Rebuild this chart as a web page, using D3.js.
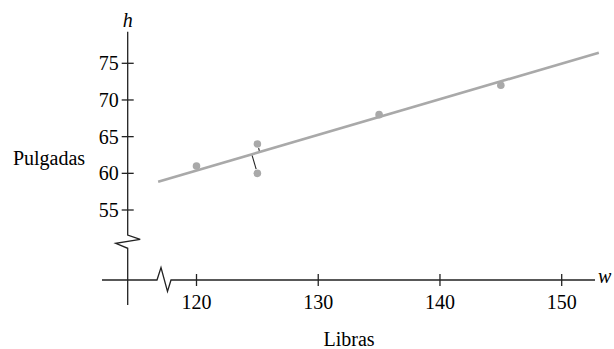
<!DOCTYPE html>
<html>
<head>
<meta charset="utf-8">
<script src="https://cdn.jsdelivr.net/npm/d3@7"></script>
<style>
  body { margin: 0; background: #fff; }
  svg { display: block; font-family: "Liberation Serif", "DejaVu Serif", serif; }
</style>
</head>
<body>
<svg id="chart" width="614" height="349"></svg>
<script>
// Datos
var pesos = [120, 125, 125, 135, 145];     // w (libras)
var alturas = [61, 64, 60, 68, 72];        // h (pulgadas)
var residuos = [1, 2];                     // puntos con segmento al ajuste
var ajusteW = [116.85, 153.05];            // extremos de la recta ajustada
var ajusteH = [58.85, 76.45];
var xTicks = [120, 130, 140, 150];
var yTicks = [55, 60, 65, 70, 75];

var svg = d3.select('#chart');

// Escalas
var x = d3.scaleLinear().domain([120, 150]).range([196.5, 561.7]);
var y = d3.scaleLinear().domain([55, 75]).range([210, 63.3]);

var ejeX = 280, ejeY = 127.7;
var gris = '#a9a9a9', negro = '#222';

// Eje Y con corte
var yBreak = 235;
svg.append('path')
  .attr('d', d3.line()([
    [ejeY, 31.7], [ejeY, yBreak], [ejeY + 12.5, yBreak + 4.3],
    [ejeY - 12, yBreak + 8.3], [ejeY, yBreak + 13.3], [ejeY, 305]
  ]))
  .attr('fill', 'none').attr('stroke', negro).attr('stroke-width', 1.3);

// Eje X con corte
var xBreak = 157;
svg.append('path')
  .attr('d', d3.line()([
    [102, ejeX], [xBreak, ejeX], [xBreak + 4, ejeX - 12.5],
    [xBreak + 10.5, ejeX + 11.5], [xBreak + 14, ejeX], [595, ejeX]
  ]))
  .attr('fill', 'none').attr('stroke', negro).attr('stroke-width', 1.3);

// Marcas Y
var gy = svg.append('g');
gy.selectAll('line').data(yTicks).enter().append('line')
  .attr('x1', ejeY - 6).attr('x2', ejeY + 6)
  .attr('y1', function (d) { return y(d); })
  .attr('y2', function (d) { return y(d); })
  .attr('stroke', negro).attr('stroke-width', 1.3);
gy.selectAll('text').data(yTicks).enter().append('text')
  .attr('x', ejeY - 9)
  .attr('y', function (d) { return y(d) + 7; })
  .attr('text-anchor', 'end')
  .style('font-size', '20px')
  .text(function (d) { return d; });

// Marcas X
var gx = svg.append('g');
gx.selectAll('line').data(xTicks).enter().append('line')
  .attr('x1', function (d) { return x(d); })
  .attr('x2', function (d) { return x(d); })
  .attr('y1', ejeX - 6).attr('y2', ejeX + 6)
  .attr('stroke', negro).attr('stroke-width', 1.3);
gx.selectAll('text').data(xTicks).enter().append('text')
  .attr('x', function (d) { return x(d); })
  .attr('y', 309)
  .attr('text-anchor', 'middle')
  .style('font-size', '20px')
  .text(function (d) { return d; });

// Etiquetas
svg.append('text').attr('x', ejeY).attr('y', 27).attr('text-anchor', 'middle')
  .style('font-size', '20px').style('font-style', 'italic').text('h');
svg.append('text').attr('x', 598).attr('y', 283)
  .style('font-size', '20px').style('font-style', 'italic').text('w');
svg.append('text').attr('x', 49).attr('y', 165).attr('text-anchor', 'middle')
  .style('font-size', '20px').text('Pulgadas');
svg.append('text').attr('x', 349).attr('y', 346).attr('text-anchor', 'middle')
  .style('font-size', '20px').text('Libras');

// Recta ajustada
var p0 = [x(ajusteW[0]), y(ajusteH[0])], p1 = [x(ajusteW[1]), y(ajusteH[1])];
svg.append('line')
  .attr('x1', p0[0]).attr('y1', p0[1]).attr('x2', p1[0]).attr('y2', p1[1])
  .attr('stroke', gris).attr('stroke-width', 2.6);

// Residuos (perpendiculares a la recta)
var dx = p1[0] - p0[0], dy = p1[1] - p0[1], len = Math.sqrt(dx * dx + dy * dy);
var ux = dx / len, uy = dy / len, r = 3.8;
residuos.forEach(function (i) {
  var px = x(pesos[i]), py = y(alturas[i]);
  var t = (px - p0[0]) * ux + (py - p0[1]) * uy;
  var fx = p0[0] + t * ux, fy = p0[1] + t * uy;
  var vx = fx - px, vy = fy - py, d = Math.sqrt(vx * vx + vy * vy);
  svg.append('line')
    .attr('x1', px + vx / d * (r + 0.5)).attr('y1', py + vy / d * (r + 0.5))
    .attr('x2', fx - vx / d * 1.3).attr('y2', fy - vy / d * 1.3)
    .attr('stroke', negro).attr('stroke-width', 1.1);
});

// Puntos
svg.selectAll('circle.pt').data(pesos).enter().append('circle')
  .attr('class', 'pt')
  .attr('cx', function (d) { return x(d); })
  .attr('cy', function (d, i) { return y(alturas[i]); })
  .attr('r', r)
  .attr('fill', gris);
</script>
</body>
</html>
